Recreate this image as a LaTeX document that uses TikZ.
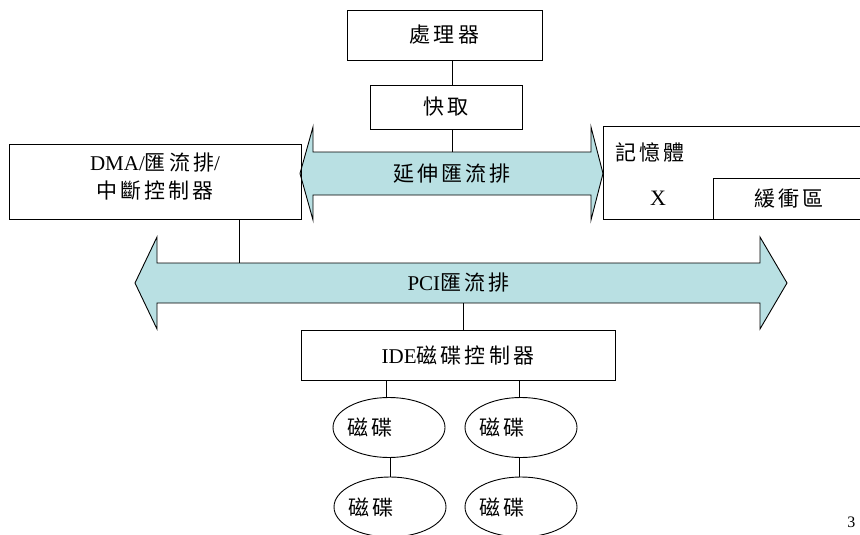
\documentclass[tikz,border=0pt]{standalone}
\usepackage{fontspec}
\setmainfont{Liberation Serif}
\newfontfamily\cjk[LetterSpace=15]{Noto Sans CJK TC}
\usetikzlibrary{shapes.geometric}
\definecolor{busfill}{RGB}{185,224,227}
\begin{document}
\begin{tikzpicture}[x=1pt,y=-1pt, line width=0.9pt,
  box/.style={draw, rectangle, inner sep=0pt, font=\fontsize{21}{28}\selectfont, align=center},
  disk/.style={draw, ellipse, inner sep=0pt, minimum width=112pt, minimum height=60pt,
     label={[font=\fontsize{21}{28}\selectfont, xshift=-19pt]center:{\cjk 磁碟}}},
  bus/.style={draw, fill=busfill, line join=miter},
  lbl/.style={font=\fontsize{21}{28}\selectfont, inner sep=0pt},
  wire/.style={draw}]
\useasboundingbox (0,0) rectangle (860,535);

% bus arrows
\draw[bus] (300,173.5) -- (313,127) -- (313,152) -- (591,152) -- (591,127) -- (603,173.5)
  -- (591,220) -- (591,195) -- (313,195) -- (313,220) -- cycle;
\draw[bus] (135,283) -- (157,237) -- (157,263) -- (760,263) -- (760,237) -- (787,283)
  -- (760,329) -- (760,303) -- (157,303) -- (157,329) -- cycle;

\node[lbl, minimum width=278pt, minimum height=43pt] (ext) at (452,173.5) {\cjk 延伸匯流排};
\node[lbl, minimum width=603pt, minimum height=40pt] (pci) at (458.5,283) {PCI{\cjk 匯流排}};

% boxes
\node[box, minimum width=195pt, minimum height=50pt] (cpu) at (444.5,35) {\cjk 處理器};
\node[box, minimum width=152pt, minimum height=44pt] (cache) at (446,107) {\cjk 快取};
\node[box, minimum width=292pt, minimum height=75pt,
  label={[lbl, align=center, yshift=5pt]center:{DMA/{\cjk 匯流排}/\\{\cjk 中斷控制器}}}]
  (dma) at (155,181.5) {};
\node[draw, inner sep=0pt, minimum width=262pt, minimum height=93pt] (mem) at (734,173) {};
\node[lbl, anchor=west] (memlbl) at (615,152) {\cjk 記憶體};
\node[box, minimum width=152pt, minimum height=41pt] (buf) at (789,198.5) {\cjk 緩衝區};
\node[lbl, font=\fontsize{22}{22}\selectfont] (xl) at (658,198) {X};
\node[box, minimum width=314pt, minimum height=50pt] (ide) at (458,355) {IDE{\cjk 磁碟控制器}};

% disks
\node[disk] (d1) at (389,427.5) {};
\node[disk] (d2) at (521,427.5) {};
\node[disk] (d3) at (390,507) {};
\node[disk] (d4) at (521,507) {};

% connectors
\coordinate (vx) at (452,0);
\draw[wire] (cpu.south -| vx) -- (cache.north -| vx);
\draw[wire] (cache.south -| vx) -- (ext.north -| vx);
\coordinate (dx) at (239,0);
\draw[wire] (dma.south -| dx) -- (pci.north -| dx);
\coordinate (ix) at (463,0);
\draw[wire] (pci.south -| ix) -- (ide.north -| ix);
\coordinate (a1) at (386,0);
\coordinate (a2) at (519,0);
\coordinate (b1) at (390,0);
\draw[wire] (ide.south -| a1) -- (d1.north -| a1);
\draw[wire] (ide.south -| a2) -- (d2.north -| a2);
\draw[wire] (d1.south -| b1) -- (d3.north -| b1);
\draw[wire] (d2.south -| a2) -- (d4.north -| a2);

\node[font=\fontsize{16}{16}\selectfont, anchor=north west, inner sep=0pt] (pg) at (847,516) {3};
\end{tikzpicture}
\end{document}
